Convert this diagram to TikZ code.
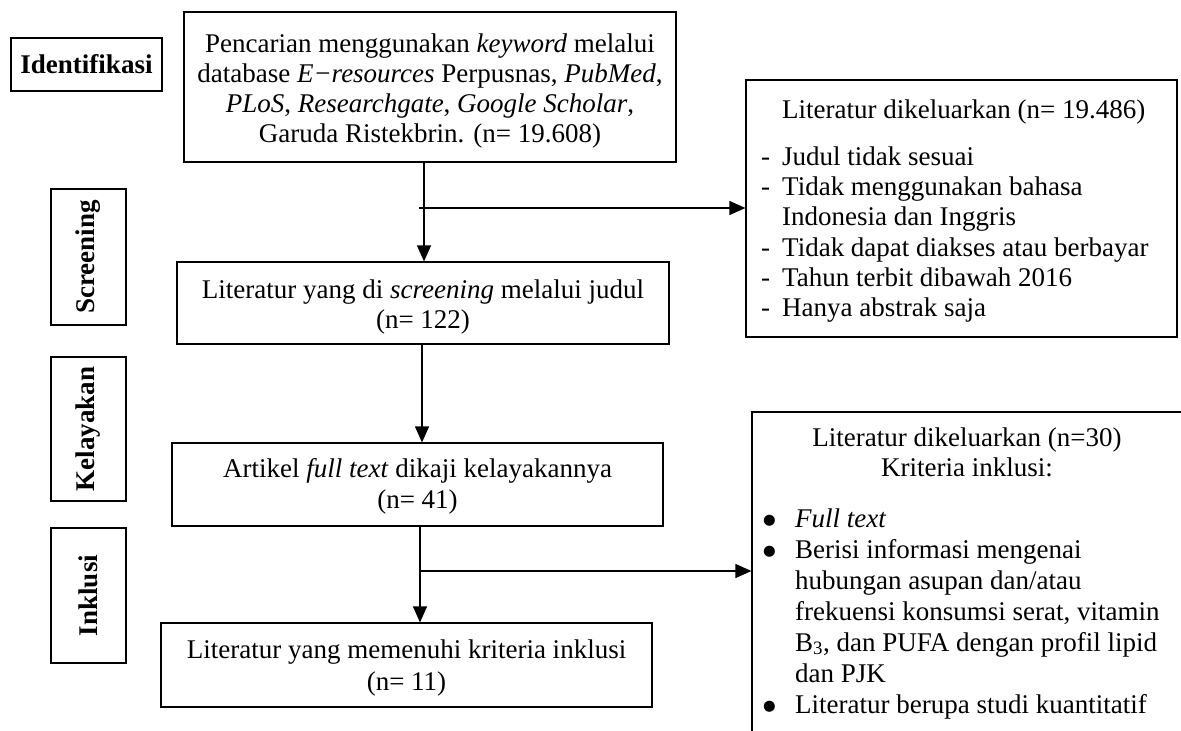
\documentclass[tikz,border=0pt]{standalone}
\usepackage{fontspec}
\setmainfont{Liberation Serif}
\newfontfamily\dejavu{DejaVu Sans}
\usetikzlibrary{arrows.meta}
\newcommand{\bigbul}{\raisebox{2.5pt}{\dejavu\fontsize{14.5}{14}\selectfont ●}}
\begin{document}
\begin{tikzpicture}[x=1pt,y=-1pt,
  box/.style={draw, line width=1.2pt, inner sep=0pt, align=center, font=\fontsize{27}{30}\selectfont},
  lbl/.style={draw, line width=1.2pt, inner sep=0pt, font=\bfseries\fontsize{27}{30}\selectfont},
  arr/.style={line width=1.2pt, -{Triangle[length=16pt,width=14pt]}},
  txt/.style={inner sep=0pt, font=\fontsize{27}{30.3}\selectfont}]
\useasboundingbox (0,0) rectangle (1181,731);
\clip (0,0) rectangle (1181,731);

% stage labels
\node[lbl, minimum width=151pt, minimum height=53pt] (ident) at (86.5,64.5) {Identifikasi};
\node[lbl, rotate=90, minimum width=136pt, minimum height=75pt] (lscreen) at (88.5,257) {Screening};
\node[lbl, rotate=90, minimum width=144pt, minimum height=75pt] (lkelayakan) at (88.5,429) {Kelayakan};
\node[lbl, rotate=90, minimum width=135pt, minimum height=75pt] (linklusi) at (88.5,595.5) {Inklusi};

% main column
\node[box, minimum width=492pt, minimum height=150pt] (search) at (430,87) {};
\node[txt, anchor=base, font=\fontsize{27}{30}\selectfont] (searchtext) at (430,52)
  {\begin{tabular}[t]{@{}c@{}}
   Pencarian menggunakan \textit{keyword} melalui\\
   database \textit{E−resources} Perpusnas, \textit{PubMed},\\
   \textit{PLoS}, \textit{Researchgate}, \textit{Google Scholar},\\
   Garuda Ristekbrin. (n= 19.608)
  \end{tabular}};
\node[box, minimum width=492pt, minimum height=82pt] (screen) at (423,303) {};
\node[txt, anchor=base, font=\fontsize{27}{30}\selectfont] (screentext) at (423,298)
  {\begin{tabular}[t]{@{}c@{}}
   Literatur yang di \textit{screening} melalui judul\\(n= 122)
  \end{tabular}};
\node[box, minimum width=491pt, minimum height=83pt] (artikel) at (417.5,484.5) {};
\node[txt, anchor=base, font=\fontsize{27}{31}\selectfont] (artikeltext) at (417.5,477)
  {\begin{tabular}[t]{@{}c@{}}
   Artikel \textit{full text} dikaji kelayakannya\\(n= 41)
  \end{tabular}};
\node[box, minimum width=491pt, minimum height=84pt] (final) at (406.5,665) {};
\node[txt, anchor=base, font=\fontsize{27}{32}\selectfont] (finaltext) at (406.5,658)
  {\begin{tabular}[t]{@{}c@{}}
   Literatur yang memenuhi kriteria inklusi\\(n= 11)
  \end{tabular}};

% exclusion boxes
\node[draw, line width=1.2pt, minimum width=431pt, minimum height=257pt, inner sep=0pt] (excl1) at (961.5,208.5) {};
\node[txt, anchor=base west] (excl1text) at (761,118)
  {\begin{tabular}[t]{@{}p{21pt}@{}l@{}}
    & Literatur dikeluarkan (n= 19.486)\\[17pt]
   - & Judul tidak sesuai\\
   - & Tidak menggunakan bahasa\\
     & Indonesia dan Inggris\\
   - & Tidak dapat diakses atau berbayar\\
   - & Tahun terbit dibawah 2016\\
   - & Hanya abstrak saja
  \end{tabular}};

\node[draw, line width=1.2pt, minimum width=448pt, minimum height=348pt, inner sep=0pt] (excl2) at (976,586) {};
\node[txt, anchor=base] (excl2head) at (967,446)
  {\begin{tabular}[t]{@{}c@{}}
   Literatur dikeluarkan (n=30)\\
   Kriteria inklusi:
  \end{tabular}};
\node[inner sep=0pt, font=\fontsize{27}{31}\selectfont, anchor=base west] (excl2list) at (763,527)
  {\begin{tabular}[t]{@{}p{32pt}@{}l@{}}
   \bigbul & \textit{Full text}\\
   \bigbul & Berisi informasi mengenai\\
     & hubungan asupan dan/atau\\
     & frekuensi konsumsi serat, vitamin\\
     & B\textsubscript{3}, dan PUFA dengan profil lipid\\
     & dan PJK\\
   \bigbul & Literatur berupa studi kuantitatif
  \end{tabular}};

% connectors
\coordinate (j1) at (419,208);
\coordinate (j2) at (420,571);
\draw[arr] ([xshift=-6pt]search.south) -- ([xshift=-6pt]search.south |- screen.north);
\draw[arr] (j1) -- (j1 -| excl1.west);
\draw[arr] ([xshift=-1pt]screen.south) -- ([xshift=-1pt]screen.south |- artikel.north);
\draw[arr] ([xshift=2.5pt]artikel.south) -- ([xshift=2.5pt]artikel.south |- final.north);
\draw[arr] (j2) -- (j2 -| excl2.west);
\end{tikzpicture}
\end{document}
